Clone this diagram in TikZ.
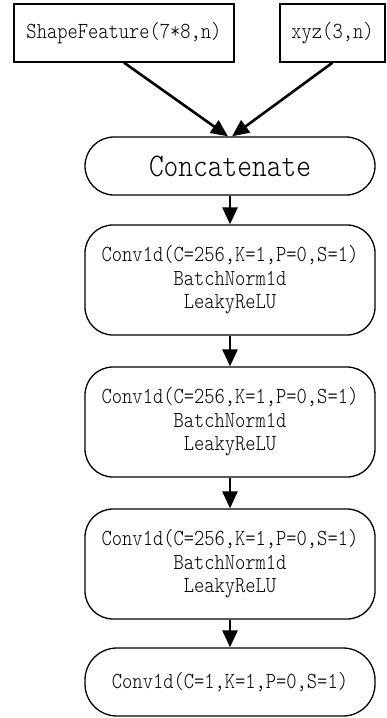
\documentclass[tikz,border=0pt]{standalone}
\usepackage{fontspec}
\usetikzlibrary{arrows.meta}
% narrow, tall monospaced face for the labels
\newfontfamily\labelfont[FakeStretch=0.85]{lmmonolt10-regular.otf}
\begin{document}
\begin{tikzpicture}[x=1pt,y=-1pt,
  box/.style={draw, line width=1.3pt, align=center, inner sep=0pt,
    font=\labelfont\fontsize{23}{23.5}\selectfont},
  flow/.style={line width=2.6pt, -{Triangle[length=17pt,width=15pt]}}]
\useasboundingbox (0,0) rectangle (386,718);

% inputs
\node[box, minimum width=220pt, minimum height=58pt] (sf) at (124,33) {ShapeFeature(7*8,n)};
\node[box, minimum width=105pt, minimum height=58pt] (xyz) at (332.5,33) {xyz(3,n)};

% concatenation
\node[box, minimum width=290pt, minimum height=58pt, rounded corners=29pt,
  font=\labelfont\fontsize{33}{34}\selectfont] (cat) at (230,166) {Concatenate};

% convolution blocks
\node[box, minimum width=290pt, minimum height=110pt, rounded corners=28pt] (c1) at (230,280)
  {Conv1d(C=256,K=1,P=0,S=1)\\BatchNorm1d\\LeakyReLU};
\node[box, minimum width=290pt, minimum height=110pt, rounded corners=28pt] (c2) at (230,422)
  {Conv1d(C=256,K=1,P=0,S=1)\\BatchNorm1d\\LeakyReLU};
\node[box, minimum width=290pt, minimum height=110pt, rounded corners=28pt] (c3) at (230,564)
  {Conv1d(C=256,K=1,P=0,S=1)\\BatchNorm1d\\LeakyReLU};

% output layer
\node[box, minimum width=290pt, minimum height=68pt, rounded corners=32pt] (out) at (230,682)
  {Conv1d(C=1,K=1,P=0,S=1)};

% connectors
\draw[flow] (sf.south) -- ([xshift=-2pt]cat.north);
\draw[flow] (xyz.south) -- ([xshift=2pt]cat.north);
\draw[flow] (cat.south) -- (c1.north);
\draw[flow] (c1.south) -- (c2.north);
\draw[flow] (c2.south) -- (c3.north);
\draw[flow] (c3.south) -- (out.north);
\end{tikzpicture}
\end{document}
